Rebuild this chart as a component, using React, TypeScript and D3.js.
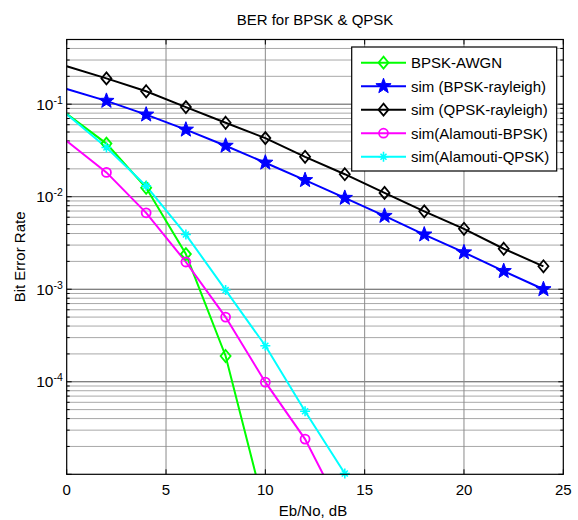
import React from "react";
import * as d3 from "d3";

const snrDb = [0, 2, 4, 6, 8, 10, 12, 14, 16, 18, 20, 22, 24];
const bpskAwgn = [0.0786, 0.0375, 0.0125, 0.0024, 0.00019, 0.0000039];
const bpskRayleigh = [0.146, 0.1085, 0.0771, 0.053, 0.0355, 0.0233, 0.0151, 0.0097, 0.0062, 0.0039, 0.0025, 0.00157, 0.001];
const qpskRayleigh = [0.257, 0.19, 0.138, 0.093, 0.063, 0.043, 0.027, 0.0175, 0.011, 0.00695, 0.0045, 0.00274, 0.00177];
const alamoutiBpsk = [0.04, 0.0183, 0.0067, 0.00197, 0.0005, 0.000099, 0.000024, 0.0000035];
const alamoutiQpsk = [0.078, 0.034, 0.0131, 0.0039, 0.00098, 0.000245, 0.000048, 0.0000102];

const xTicks = [0, 5, 10, 15, 20, 25];
const yMajorExp = [-1, -2, -3, -4];
const legendLabels = ["BPSK-AWGN", "sim (BPSK-rayleigh)", "sim (QPSK-rayleigh)", "sim(Alamouti-BPSK)", "sim(Alamouti-QPSK)"];

const L = 66.7, R = 563.3, T = 39.5, B = 474.3;
const FONT = "'Liberation Sans', Arial, Helvetica, sans-serif";

type Marker = "diamond" | "star" | "circle" | "asterisk";

function markerEl(kind: Marker, cx: number, cy: number, color: string, key: string) {
  if (kind === "diamond") {
    const w = 5, h = 6;
    return <path key={key} d={`M${cx},${cy - h}L${cx + w},${cy}L${cx},${cy + h}L${cx - w},${cy}Z`} fill="none" stroke={color} strokeWidth={1.8} />;
  }
  if (kind === "circle") {
    return <circle key={key} cx={cx} cy={cy} r={4.5} fill="none" stroke={color} strokeWidth={1.8} />;
  }
  if (kind === "asterisk") {
    const s = 5, d = 3;
    return (
      <path key={key} d={`M${cx - s},${cy}L${cx + s},${cy}M${cx},${cy - s}L${cx},${cy + s}M${cx - d},${cy - d}L${cx + d},${cy + d}M${cx - d},${cy + d}L${cx + d},${cy - d}`} stroke={color} strokeWidth={1.6} fill="none" />
    );
  }
  const ro = 8, ri = 3.3;
  const pts: string[] = [];
  for (let i = 0; i < 10; i++) {
    const r = i % 2 === 0 ? ro : ri;
    const a = -Math.PI / 2 + (i * Math.PI) / 5;
    pts.push(`${cx + r * Math.cos(a)},${cy + r * Math.sin(a)}`);
  }
  return <path key={key} d={`M${pts.join("L")}Z`} fill={color} stroke={color} strokeWidth={1} />;
}

export default function App() {
  const x = d3.scaleLinear().domain([0, 25]).range([L, R]);
  const y = d3.scaleLog().domain([1e-5, 0.5]).range([B, T]);

  const series: { data: number[]; color: string; marker: Marker }[] = [
    { data: bpskAwgn, color: "#00ff00", marker: "diamond" },
    { data: bpskRayleigh, color: "#0000ff", marker: "star" },
    { data: qpskRayleigh, color: "#000000", marker: "diamond" },
    { data: alamoutiBpsk, color: "#ff00ff", marker: "circle" },
    { data: alamoutiQpsk, color: "#00ffff", marker: "asterisk" },
  ];

  const line = d3.line<number>().x((_, i) => x(snrDb[i])).y((v) => y(v));

  const minorVals: number[] = [];
  for (let e = -5; e <= -1; e++) {
    for (let k = 2; k <= 9; k++) {
      const v = k * Math.pow(10, e);
      if (v <= 0.5) minorVals.push(v);
    }
  }
  const majorVals = yMajorExp.map((e) => Math.pow(10, e));

  const legX = 351.7, legY = 47, legW = 205, legH = 124;
  const rowY = (i: number) => 62.7 + i * 23.5;

  return (
    <svg width={578} height={520} style={{ position: "absolute", left: 0, top: 0, background: "#fff" }} fontFamily={FONT}>
      <rect x={0} y={0} width={578} height={520} fill="#fff" />
      <defs>
        <clipPath id="plotclip">
          <rect x={L} y={T} width={R - L} height={B - T} />
        </clipPath>
      </defs>
      {minorVals.map((v, i) => (
        <line key={"mg" + i} x1={L} x2={R} y1={y(v)} y2={y(v)} stroke="#a8a8a8" strokeWidth={1} />
      ))}
      {majorVals.map((v, i) => (
        <line key={"Mg" + i} x1={L} x2={R} y1={y(v)} y2={y(v)} stroke="#555" strokeWidth={1} />
      ))}
      {xTicks.slice(1, -1).map((t) => (
        <line key={"vg" + t} x1={x(t)} x2={x(t)} y1={T} y2={B} stroke="#8a8a8a" strokeWidth={1} />
      ))}
      {xTicks.map((t) => (
        <g key={"xt" + t}>
          <line x1={x(t)} x2={x(t)} y1={B} y2={B - 5} stroke="#000" />
          <line x1={x(t)} x2={x(t)} y1={T} y2={T + 5} stroke="#000" />
          <text x={x(t)} y={495} fontSize={15} textAnchor="middle" fill="#000">{t}</text>
        </g>
      ))}
      {minorVals.map((v, i) => (
        <g key={"myt" + i}>
          <line x1={L} x2={L + 3} y1={y(v)} y2={y(v)} stroke="#000" />
          <line x1={R} x2={R - 3} y1={y(v)} y2={y(v)} stroke="#000" />
        </g>
      ))}
      {[...majorVals, 1e-5].map((v, i) => (
        <g key={"Myt" + i}>
          <line x1={L} x2={L + 5} y1={y(v)} y2={y(v)} stroke="#000" />
          <line x1={R} x2={R - 5} y1={y(v)} y2={y(v)} stroke="#000" />
        </g>
      ))}
      {yMajorExp.map((e) => (
        <g key={"yl" + e}>
          <text x={53.5} y={y(Math.pow(10, e)) + 5.5} fontSize={15.5} textAnchor="end" fill="#000">10</text>
          <text x={53.5} y={y(Math.pow(10, e)) - 0.5} fontSize={10.5} textAnchor="start" fill="#000">{e}</text>
        </g>
      ))}
      <g clipPath="url(#plotclip)">
        {series.map((s, si) => (
          <path key={"l" + si} d={line(s.data) || ""} fill="none" stroke={s.color} strokeWidth={2} />
        ))}
      </g>
      {series.map((s, si) =>
        s.data.map((v, i) =>
          v >= 1e-5 && snrDb[i] > 0 ? markerEl(s.marker, x(snrDb[i]), y(v), s.color, `m${si}-${i}`) : null
        )
      )}
      <rect x={L} y={T} width={R - L} height={B - T} fill="none" stroke="#000" strokeWidth={1.2} />
      <rect x={legX} y={legY} width={legW} height={legH} fill="#fff" stroke="#000" strokeWidth={1.2} />
      {series.map((s, i) => (
        <g key={"lg" + i}>
          <line x1={361} x2={406} y1={rowY(i)} y2={rowY(i)} stroke={s.color} strokeWidth={2} />
          {markerEl(s.marker, 383.5, rowY(i), s.color, "lm" + i)}
          <text x={411} y={rowY(i) + 5.5} fontSize={15} fill="#000">{legendLabels[i]}</text>
        </g>
      ))}
      <text x={315} y={25} fontSize={15} textAnchor="middle" fill="#000">BER for BPSK &amp; QPSK</text>
      <text x={313} y={516} fontSize={15} textAnchor="middle" fill="#000">Eb/No, dB</text>
      <text transform={`translate(25,${(T + B) / 2}) rotate(-90)`} fontSize={15} textAnchor="middle" fill="#000">Bit Error Rate</text>
    </svg>
  );
}
